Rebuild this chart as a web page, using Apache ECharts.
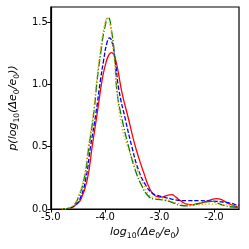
<!DOCTYPE html>
<html>
<head>
<meta charset="utf-8">
<script src="https://cdn.jsdelivr.net/npm/echarts@6/dist/echarts.min.js"></script>
<style>html,body{margin:0;padding:0;background:#fff}#c{width:249px;height:249px}</style>
</head>
<body>
<div id="c"></div>
<script>
// x tick labels and y tick labels
const xTicks = [-5, -4, -3, -2];
const yTicks = [0, 0.5, 1.0, 1.5];

// red solid
const redX = [-4.75,-4.63,-4.55,-4.45,-4.33,-4.24,-4.146,-4.055,-4.00,-3.94,-3.885,-3.83,-3.77,-3.69,-3.57,-3.48,-3.39,-3.29,-3.20,-3.11,-3.03,-2.96,-2.87,-2.78,-2.70,-2.62,-2.50,-2.40,-2.32,-2.22,-2.14,-2.05,-1.95,-1.88,-1.83,-1.74,-1.65,-1.55];
const redY = [0.0,0.008,0.03,0.075,0.235,0.50,0.77,1.04,1.15,1.23,1.254,1.225,1.12,0.93,0.72,0.557,0.42,0.29,0.18,0.115,0.098,0.096,0.108,0.115,0.095,0.067,0.04,0.035,0.04,0.05,0.061,0.075,0.083,0.078,0.067,0.045,0.029,0.013];

// blue dashed
const blueX = [-4.75,-4.65,-4.55,-4.47,-4.36,-4.27,-4.17,-4.085,-4.03,-3.97,-3.92,-3.87,-3.81,-3.75,-3.63,-3.51,-3.39,-3.26,-3.14,-3.05,-2.96,-2.87,-2.78,-2.65,-2.50,-2.26,-2.10,-1.95,-1.80,-1.71,-1.62,-1.53];
const blueY = [0.0,0.008,0.03,0.075,0.235,0.50,0.77,1.04,1.19,1.33,1.372,1.33,1.17,0.96,0.72,0.50,0.316,0.195,0.128,0.11,0.10,0.09,0.08,0.07,0.067,0.067,0.064,0.061,0.054,0.048,0.037,0.029];

// green dash-dot
const greenX = [-4.78,-4.67,-4.58,-4.51,-4.39,-4.30,-4.21,-4.146,-4.08,-4.01,-3.945,-3.88,-3.82,-3.78,-3.69,-3.57,-3.45,-3.32,-3.20,-3.10,-2.99,-2.90,-2.81,-2.72,-2.62,-2.50,-2.40,-2.26,-2.14,-2.04,-1.95,-1.89,-1.80,-1.71,-1.53];
const greenY = [0.0,0.008,0.03,0.075,0.235,0.50,0.77,1.04,1.26,1.45,1.535,1.42,1.18,0.93,0.72,0.50,0.316,0.18,0.10,0.08,0.075,0.07,0.06,0.045,0.029,0.025,0.03,0.048,0.058,0.061,0.05,0.04,0.027,0.018,0.013];

// orange dotted
const orangeX = [-4.80,-4.68,-4.59,-4.52,-4.40,-4.31,-4.22,-4.155,-4.09,-4.02,-3.96,-3.90,-3.84,-3.79,-3.72,-3.59,-3.41,-3.30,-3.20,-3.10,-3.00,-2.90,-2.81,-2.70,-2.56,-2.44,-2.32,-2.20,-2.07,-1.95,-1.83,-1.70,-1.59,-1.53];
const orangeY = [0.0,0.008,0.03,0.075,0.235,0.50,0.77,1.04,1.27,1.46,1.53,1.45,1.22,1.00,0.72,0.50,0.316,0.20,0.12,0.09,0.083,0.08,0.067,0.05,0.04,0.036,0.035,0.038,0.04,0.038,0.035,0.032,0.029,0.027];

const zip = (xs, ys) => xs.map((x, i) => [x, ys[i]]);
const FONT = 'DejaVu Sans';
const rich = {
  i: {fontFamily: FONT, fontStyle: 'italic', fontSize: 11, color: '#000', verticalAlign: 'bottom', padding: [0,0,2,0]},
  s: {fontFamily: FONT, fontStyle: 'normal', fontSize: 7.7, color: '#000', verticalAlign: 'bottom'}
};
const xName = '{i|log}{s|10}{i|(Δe}{s|0}{i|/e}{s|0}{i|)}';
const yName = '{i|p(log}{s|10}{i|(Δe}{s|0}{i|/e}{s|0}{i|))}';

const mk = (name, data, color, type) => ({
  name, type: 'line', data, smooth: 0.5, symbol: 'none',
  lineStyle: {color, width: 1.3, type}
});

const chart = echarts.init(document.getElementById('c'), null, {renderer: 'canvas'});
chart.setOption({
  animation: false,
  backgroundColor: '#fff',
  grid: {left: 50, right: 10, top: 7, bottom: 40, show: true, borderColor: '#000', borderWidth: 1.2, containLabel: false},
  xAxis: {
    type: 'value', min: -5, max: -1.54,
    name: xName, nameLocation: 'middle', nameGap: 16,
    nameTextStyle: {rich},
    axisLine: {lineStyle: {color: '#000', width: 1.2}},
    axisTick: {show: true, length: 3.5, customValues: xTicks, lineStyle: {color: '#000', width: 1}},
    axisLabel: {customValues: xTicks, color: '#000', fontFamily: FONT, fontSize: 10, margin: 3, formatter: v => v.toFixed(1)},
    splitLine: {show: false}
  },
  yAxis: {
    type: 'value', min: 0, max: 1.62,
    name: yName, nameLocation: 'middle', nameGap: 28,
    nameTextStyle: {rich},
    axisLine: {show: true, lineStyle: {color: '#000', width: 1.2}},
    axisTick: {show: true, length: 3.5, customValues: yTicks, lineStyle: {color: '#000', width: 1}},
    axisLabel: {customValues: yTicks, color: '#000', fontFamily: FONT, fontSize: 10, margin: 3, formatter: v => v.toFixed(1)},
    splitLine: {show: false}
  },
  series: [
    mk('red', zip(redX, redY), '#ff0000', 'solid'),
    mk('blue', zip(blueX, blueY), '#0000ff', [4.4, 1.9]),
    mk('green', zip(greenX, greenY), '#008000', [7.7, 1.9, 1.3, 1.9]),
    mk('orange', zip(orangeX, orangeY), '#ffa500', [1.3, 2.1])
  ]
});
</script>
</body>
</html>
